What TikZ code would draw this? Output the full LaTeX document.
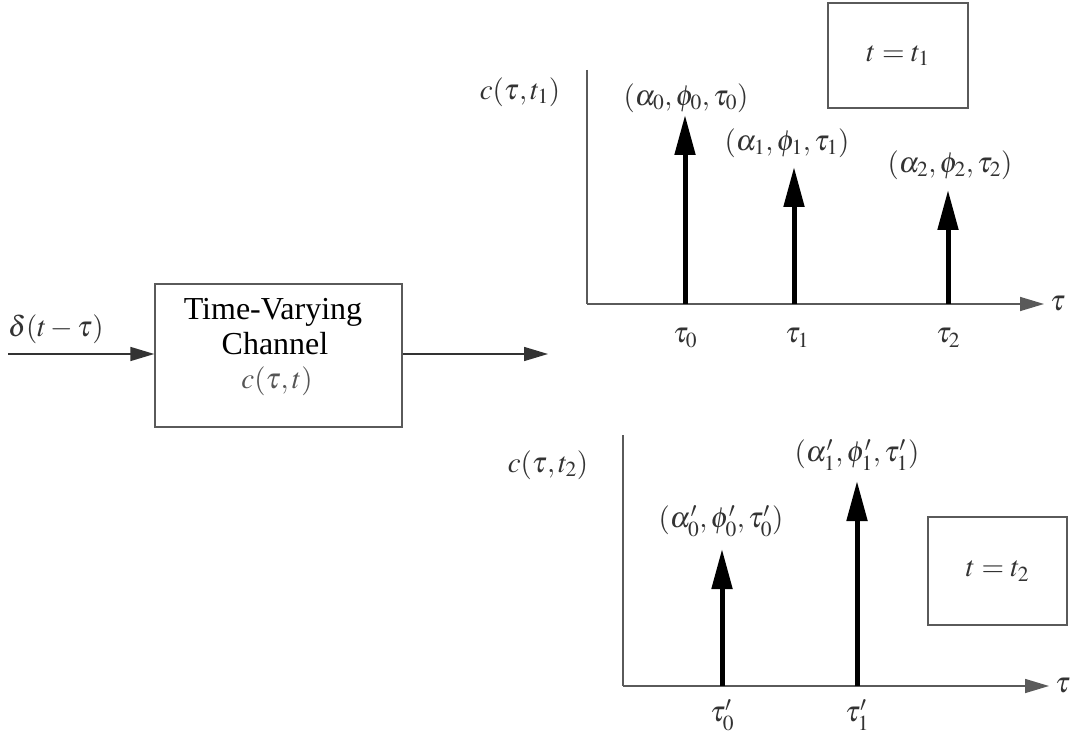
\documentclass[tikz,border=0pt]{standalone}
\usepackage{mathptmx}
\usepackage{fontspec}
\setmainfont{Liberation Serif}
\usetikzlibrary{arrows.meta}
\definecolor{ln}{HTML}{5A5A5A}
\definecolor{tx}{HTML}{333333}
\definecolor{tl}{HTML}{555555}
\begin{document}
\begin{tikzpicture}[x=1pt,y=-1pt,
  lbl/.style={text=tx,font=\fontsize{29}{32}\selectfont,inner sep=0pt},
  ttl/.style={text=black,font=\fontsize{32}{32}\selectfont,inner sep=0pt,align=center},
  frame/.style={draw=ln,line width=1.4pt},
  axis/.style={draw=ln,line width=1.6pt},
  axarr/.style={axis,-{Triangle[length=24pt,width=14pt]}},
  sig/.style={draw=tx,line width=1.6pt,-{Triangle[length=24pt,width=14pt]}},
  imp/.style={draw=black,line width=5pt,-{Triangle[length=40pt,width=20pt]}}]
\useasboundingbox (0,0) rectangle (1071,735);
% channel block
\node[frame,minimum width=247pt,minimum height=143pt,inner sep=0pt] (ch) at (278.5,355.5) {};
\node[ttl] (tv) at (273,312) {Time-Varying};
\node[ttl] (cn) at (275,344) {Channel};
\node[lbl,text=tl] (ct) at (277,381) {$c(\tau,t)$};
\coordinate (in) at (8,354);
\coordinate (out) at (548,354);
\node[lbl,anchor=south west] (del) at (8,344) {$\delta(t-\tau)$};
\draw[sig] (in) -- (in -| ch.west);
\draw[sig] (out -| ch.east) -- (out);
% top plot
\coordinate (o1) at (587,304);
\coordinate (y1) at (587,70);
\coordinate (x1) at (1044,304);
\draw[axis] (y1) -- (o1);
\draw[axarr] (o1) -- (x1);
\node[lbl,anchor=west] (tau1) at (1050,304) {$\tau$};
\node[lbl] (cl1) at (520,92) {$c(\tau,t_1)$};
\coordinate (a0) at (685,304); \coordinate (a0t) at (685,115);
\coordinate (a1) at (794,304); \coordinate (a1t) at (794,167);
\coordinate (a2) at (948,304); \coordinate (a2t) at (948,190);
\draw[imp] (a0) -- (a0t);
\draw[imp] (a1) -- (a1t);
\draw[imp] (a2) -- (a2t);
\node[lbl] (l0) at (686,98) {$(\alpha_0,\phi_0,\tau_0)$};
\node[lbl] (l1) at (787,143) {$(\alpha_1,\phi_1,\tau_1)$};
\node[lbl] (l2) at (950,165) {$(\alpha_2,\phi_2,\tau_2)$};
\node[lbl] (k0) at (685,338) {$\tau_0$};
\node[lbl] (k1) at (797,338) {$\tau_1$};
\node[lbl] (k2) at (948,338) {$\tau_2$};
\node[frame,minimum width=140pt,minimum height=105pt,inner sep=0pt] (b1) at (898,55.5) {};
\node[lbl] (b1t) at (b1.center) {$t=t_1$};
% bottom plot
\coordinate (o2) at (623,686);
\coordinate (y2) at (623,435);
\coordinate (x2) at (1049,686);
\draw[axis] (y2) -- (o2);
\draw[axarr] (o2) -- (x2);
\node[lbl,anchor=west] (tau2) at (1055,686) {$\tau$};
\node[lbl] (cl2) at (548,465) {$c(\tau,t_2)$};
\coordinate (b0) at (722,686); \coordinate (b0t) at (722,549);
\coordinate (bb1) at (857,686); \coordinate (bb1t) at (857,481);
\draw[imp] (b0) -- (b0t);
\draw[imp] (bb1) -- (bb1t);
\node[lbl] (m0) at (721,521) {$(\alpha_0',\phi_0',\tau_0')$};
\node[lbl] (m1) at (857,455) {$(\alpha_1',\phi_1',\tau_1')$};
\node[lbl] (n0) at (722,715) {$\tau_0'$};
\node[lbl] (n1) at (857,715) {$\tau_1'$};
\node[frame,minimum width=139pt,minimum height=108pt,inner sep=0pt] (b2) at (997.5,571) {};
\node[lbl] (b2t) at (b2.center) {$t=t_2$};
\end{tikzpicture}
\end{document}
